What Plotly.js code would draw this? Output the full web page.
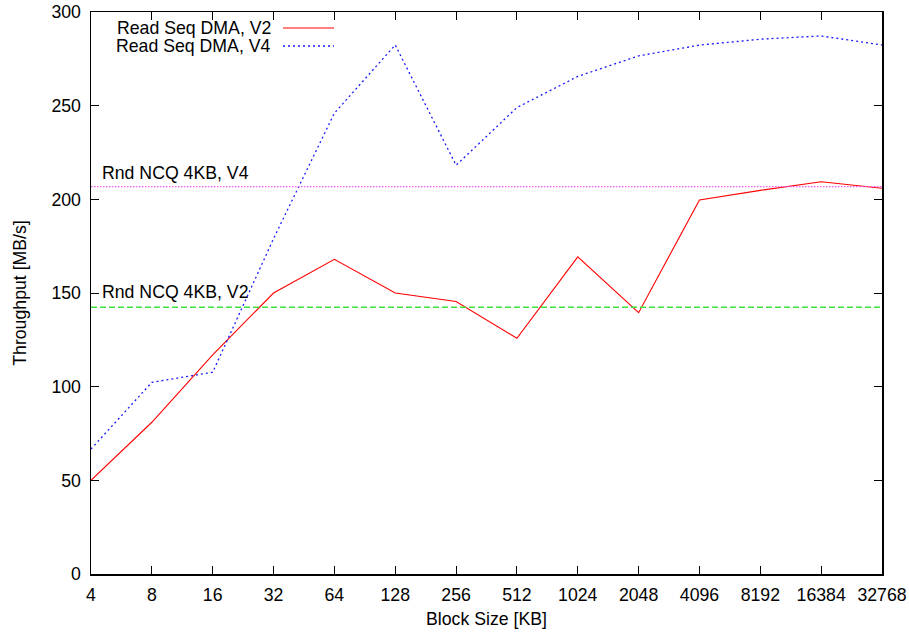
<!DOCTYPE html>
<html>
<head>
<meta charset="utf-8">
<script src="https://cdn.plot.ly/plotly-3.0.1.min.js"></script>
<style>html,body{margin:0;padding:0;background:#fff;}#chart{width:909px;height:633px;}</style>
</head>
<body>
<div id="chart"></div>
<script>
// Data
const blockSizes = [4, 8, 16, 32, 64, 128, 256, 512, 1024, 2048, 4096, 8192, 16384, 32768];
const tickLabels = ["4","8","16","32","64","128","256","512","1024","2048","4096","8192","16384","32768"];
const readSeqV2 = [50, 81, 117, 150, 168, 150, 145.5, 125.8, 169.3, 139.5, 199.7, 204.8, 209.4, 205.9];
const readSeqV4 = [66.7, 102.3, 107.7, 179, 246, 282.4, 218.2, 249, 265.6, 276.6, 282.3, 285.5, 287.2, 282.4];
const rndNcqV4 = 206.8;
const rndNcqV2 = 142.4;
const seriesNames = ["Read Seq DMA, V2", "Read Seq DMA, V4"];
const refNames = ["Rnd NCQ 4KB, V4", "Rnd NCQ 4KB, V2"];

const FONT = "Liberation Sans, Arial, Helvetica, sans-serif";
const FS = 17.7;
const xEnds = [blockSizes[0], blockSizes[blockSizes.length - 1]];

const traces = [
  {x: blockSizes, y: readSeqV2, mode: "lines", name: seriesNames[0],
   line: {color: "#ff0000", width: 1.1}},
  {x: blockSizes, y: readSeqV4, mode: "lines", name: seriesNames[1],
   line: {color: "#1a1aff", width: 1.3, dash: "2px,3px"}},
  {x: xEnds, y: [rndNcqV4, rndNcqV4], mode: "lines", name: refNames[0],
   line: {color: "#f25cf2", width: 1.4, dash: "1.5px,1.5px"}},
  {x: xEnds, y: [rndNcqV2, rndNcqV2], mode: "lines", name: refNames[1],
   line: {color: "#3ee03e", width: 1.4, dash: "6px,3px"}}
];

const W = 909, H = 633, L = 91, R = 27, T = 12, B = 59;
const pw = W - L - R, ph = H - T - B;
function px2paperX(px){ return (px - L) / pw; }
function px2paperY(py){ return (H - B - py) / ph; }

const layout = {
  width: W, height: H,
  margin: {l: L, r: R, t: T, b: B, pad: 0},
  paper_bgcolor: "#fff", plot_bgcolor: "#fff",
  showlegend: false,
  font: {family: FONT, size: FS, color: "#000"},
  xaxis: {
    type: "log",
    range: [Math.log10(xEnds[0]), Math.log10(xEnds[1])],
    tickvals: blockSizes, ticktext: tickLabels,
    ticks: "inside", ticklen: 8, tickwidth: 1, tickcolor: "#000",
    showline: true, linecolor: "#000", linewidth: 1.5, mirror: "ticks",
    showgrid: false, zeroline: false,
    tickfont: {family: FONT, size: FS},
    ticklabelstandoff: 4,
    title: {text: "Block Size [KB]", font: {family: FONT, size: FS}, standoff: 9}
  },
  yaxis: {
    range: [0, 300], tickvals: [0, 50, 100, 150, 200, 250, 300],
    ticks: "inside", ticklen: 8, tickwidth: 1, tickcolor: "#000",
    showline: true, linecolor: "#000", linewidth: 1.5, mirror: "ticks",
    showgrid: false, zeroline: false,
    tickfont: {family: FONT, size: FS},
    ticklabelstandoff: 5,
    title: {text: "Throughput [MB/s]", font: {family: FONT, size: FS}, standoff: 20}
  },
  annotations: [
    {x: Math.log10(blockSizes[0]), y: rndNcqV4, xref: "x", yref: "y", text: refNames[0],
     showarrow: false, xanchor: "left", yanchor: "bottom", xshift: 9, yshift: 2,
     font: {family: FONT, size: FS}},
    {x: Math.log10(blockSizes[0]), y: rndNcqV2, xref: "x", yref: "y", text: refNames[1],
     showarrow: false, xanchor: "left", yanchor: "bottom", xshift: 9, yshift: 3,
     font: {family: FONT, size: FS}},
    {x: px2paperX(273), y: px2paperY(28), xref: "paper", yref: "paper", text: seriesNames[0],
     showarrow: false, xanchor: "right", yanchor: "middle", font: {family: FONT, size: FS}},
    {x: px2paperX(273), y: px2paperY(46), xref: "paper", yref: "paper", text: seriesNames[1],
     showarrow: false, xanchor: "right", yanchor: "middle", font: {family: FONT, size: FS}}
  ],
  shapes: [
    {type: "line", xref: "paper", yref: "paper", x0: px2paperX(283), x1: px2paperX(334),
     y0: px2paperY(28), y1: px2paperY(28), line: {color: "#ff0000", width: 1.1}},
    {type: "line", xref: "paper", yref: "paper", x0: px2paperX(283), x1: px2paperX(334),
     y0: px2paperY(46), y1: px2paperY(46), line: {color: "#1a1aff", width: 1.3, dash: "2px,3px"}}
  ]
};

Plotly.newPlot("chart", traces, layout, {displayModeBar: false, staticPlot: true});
</script>
</body>
</html>
